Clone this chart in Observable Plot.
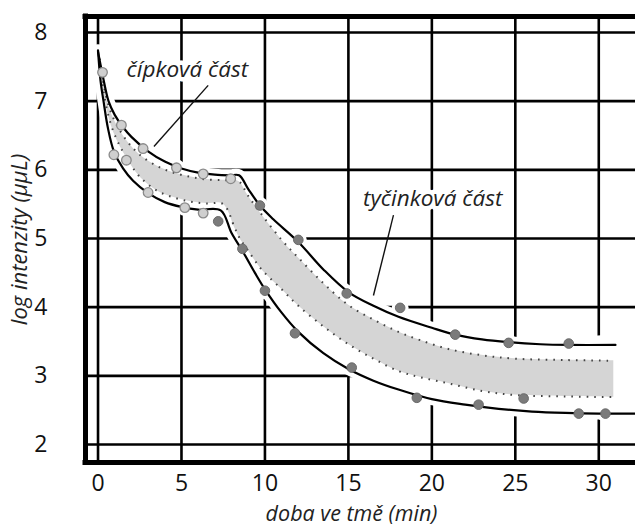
<!DOCTYPE html>
<html>
<head>
<meta charset="utf-8">
<script src="https://cdn.jsdelivr.net/npm/d3@7"></script>
<script src="https://cdn.jsdelivr.net/npm/@observablehq/plot@0.6"></script>
<style>
  html, body { margin: 0; padding: 0; background: #fff; }
  #chart svg { display: block; }
</style>
</head>
<body>
<div id="chart"></div>
<script>
// ---- data ----
const xTicks = [0, 5, 10, 15, 20, 25, 30];
const yTicks = [2, 3, 4, 5, 6, 7, 8];
const xLabel = "doba ve tmě (min)";
const yLabel = "log intenzity (μμL)";

// upper solid curve
const upperX = [0, 0.3, 0.63, 1.0, 1.5, 2, 3, 4, 5, 6, 7, 7.9, 8.45, 9, 9.7, 10.5, 12, 13.5, 15, 16.5, 18, 20, 21.4, 23, 24.6, 26.5, 28.2, 31];
const upperY = [7.72, 7.35, 7.0, 6.8, 6.62, 6.48, 6.27, 6.12, 6.02, 5.96, 5.93, 5.92, 5.92, 5.72, 5.48, 5.28, 4.95, 4.55, 4.22, 4.02, 3.86, 3.7, 3.6, 3.53, 3.49, 3.46, 3.45, 3.45];
// lower solid curve
const lowerX = [0, 0.15, 0.33, 0.6, 0.95, 1.5, 2.1, 3, 4, 5, 6, 7.35, 8, 8.7, 9.4, 10, 11, 12, 13.5, 15, 16.5, 18, 20, 22, 24, 26, 28, 30, 32.2];
const lowerY = [7.74, 7.3, 7.0, 6.6, 6.27, 6.02, 5.84, 5.66, 5.53, 5.46, 5.42, 5.41, 5.08, 4.8, 4.5, 4.26, 3.92, 3.64, 3.33, 3.1, 2.93, 2.8, 2.66, 2.58, 2.52, 2.48, 2.46, 2.45, 2.45];
// gray band between the dotted lines
const bandX    = [0.1, 0.3, 0.5, 0.8, 1.2, 1.8, 2.5, 3.5, 4.5, 5.5, 6.5, 7.5, 8.2, 8.5, 9, 9.8, 11, 12, 13.5, 15, 16.5, 18, 19.3, 21, 23, 25, 28, 30.9];
const bandTopY = [7.62, 7.3, 7.05, 6.82, 6.62, 6.4, 6.22, 6.06, 5.96, 5.9, 5.86, 5.85, 5.85, 5.82, 5.62, 5.35, 4.98, 4.72, 4.35, 4.03, 3.82, 3.64, 3.52, 3.39, 3.3, 3.25, 3.23, 3.22];
const bandBotY = [7.58, 7.2, 6.92, 6.64, 6.4, 6.14, 5.9, 5.7, 5.6, 5.54, 5.51, 5.5, 5.15, 5.0, 4.82, 4.55, 4.26, 4.02, 3.72, 3.46, 3.25, 3.07, 2.98, 2.89, 2.78, 2.72, 2.7, 2.69];

// measured points: cone (light) and rod (dark)
const coneX = [0.27, 1.4, 2.7, 4.7, 6.3, 7.95, 0.95, 1.7, 3.0, 5.2, 6.3];
const coneY = [7.42, 6.65, 6.31, 6.03, 5.94, 5.87, 6.22, 6.14, 5.67, 5.45, 5.37];
const rodX = [9.7, 12.0, 14.9, 18.1, 21.4, 24.6, 28.2, 7.2, 8.65, 10.0, 11.8, 15.2, 19.1, 22.8, 25.5, 28.8, 30.4];
const rodY = [5.48, 4.98, 4.2, 3.99, 3.6, 3.48, 3.47, 5.25, 4.85, 4.24, 3.62, 3.12, 2.68, 2.58, 2.67, 2.45, 2.45];

// annotations
const noteText = ["čípková část", "tyčinková část"];
const noteX = [5.35, 20.05];
const noteY = [7.45, 5.58];
const leadX1 = [3.35, 16.5];
const leadY1 = [6.34, 4.17];
const leadX2 = [6.6, 17.7];
const leadY2 = [7.23, 5.34];

const xDomain = [-0.75, 32.2];
const yDomain = [1.738, 8.233];

// ---- build tables ----
const pts = (xs, ys) => xs.map((x, i) => ({x, y: ys[i]}));
const upper = pts(upperX, upperY);
const lower = pts(lowerX, lowerY);
const hull = upper.concat(lower.slice().reverse());
const band = bandX.map((x, i) => ({x, top: bandTopY[i], bot: bandBotY[i]}));
const cone = pts(coneX, coneY);
const rod = pts(rodX, rodY);
const allPts = cone.concat(rod);
const notes = noteText.map((t, i) => ({t, x: noteX[i], y: noteY[i]}));
const leads = leadX1.map((x1, i) => ({x1, y1: leadY1[i], x2: leadX2[i], y2: leadY2[i]}));

const curve = "catmull-rom";

const chart = Plot.plot({
  width: 635,
  height: 532,
  marginLeft: 85,
  marginRight: 0,
  marginTop: 16,
  marginBottom: 70,
  x: {domain: xDomain},
  y: {domain: yDomain},
  style: {fontFamily: "'Open Sans', sans-serif", fontSize: "23px", color: "#111", background: "white"},
  marks: [
    // grid
    Plot.ruleX(xTicks, {stroke: "#000", strokeWidth: 2.6}),
    Plot.ruleY(yTicks, {stroke: "#000", strokeWidth: 2.6}),
    // white halo region
    Plot.line(hull, {x: "x", y: "y", curve, fill: "white", stroke: "white", strokeWidth: 12}),
    Plot.dot(allPts, {x: "x", y: "y", r: 8.5, fill: "white"}),
    // gray band
    Plot.areaY(band, {x: "x", y1: "bot", y2: "top", curve, fill: "#d5d5d5"}),
    // dotted band edges
    Plot.lineY(band, {x: "x", y: "top", curve, stroke: "#444", strokeWidth: 2, strokeDasharray: "1.6,6", strokeLinecap: "butt"}),
    Plot.lineY(band, {x: "x", y: "bot", curve, stroke: "#444", strokeWidth: 2, strokeDasharray: "1.6,6", strokeLinecap: "butt"}),
    // solid curves
    Plot.line(upper, {x: "x", y: "y", curve, stroke: "#000", strokeWidth: 2.2}),
    Plot.line(lower, {x: "x", y: "y", curve, stroke: "#000", strokeWidth: 2.2}),
    // points
    Plot.dot(cone, {x: "x", y: "y", r: 4.8, fill: "#cfcfcf", stroke: "#8a8a8a", strokeWidth: 1.3}),
    Plot.dot(rod, {x: "x", y: "y", r: 4.8, fill: "#7b7b7b", stroke: "#6a6a6a", strokeWidth: 1}),
    // leader lines
    Plot.link(leads, {x1: "x1", y1: "y1", x2: "x2", y2: "y2", stroke: "#111", strokeWidth: 1.4}),
    // annotations
    Plot.text(notes, {x: "x", y: "y", text: "t", fontSize: 22.5, fontStyle: "italic", fill: "#222", stroke: "white", strokeWidth: 9}),
    // frame (left, top, bottom)
    Plot.ruleX([xDomain[0]], {stroke: "#000", strokeWidth: 5, strokeLinecap: "square"}),
    Plot.ruleY([yDomain[0], yDomain[1]], {stroke: "#000", strokeWidth: 5, strokeLinecap: "square"}),
    // axes
    Plot.axisX(xTicks, {tickSize: 0, tickPadding: 12, fontSize: 23, tickFormat: d => String(d), label: null, fill: "#111"}),
    Plot.axisY(yTicks, {tickSize: 0, tickPadding: 38, fontSize: 23, tickFormat: d => String(d), label: null, fill: "#111"}),
    // axis titles
    Plot.text([xLabel], {frameAnchor: "bottom", textAnchor: "middle", dx: -9, dy: 58, fontSize: 21.5, fontStyle: "italic", fill: "#222"}),
    Plot.text([yLabel], {frameAnchor: "left", textAnchor: "middle", dx: -66, rotate: -90, fontSize: 22, fontStyle: "italic", fill: "#222"})
  ]
});
document.getElementById("chart").appendChild(chart);
</script>
</body>
</html>
